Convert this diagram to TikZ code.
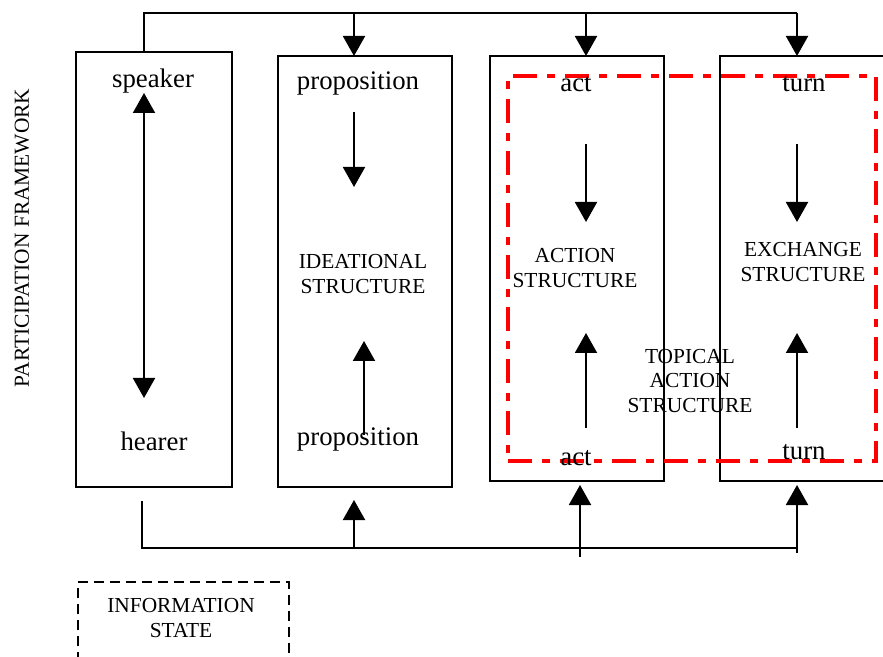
\documentclass[tikz,border=0pt]{standalone}
\usepackage{fontspec}
\setmainfont{Liberation Serif}
\usetikzlibrary{arrows.meta}
\begin{document}
\begin{tikzpicture}[x=0.5pt, y=-0.5pt,
    box/.style={draw, line width=1pt, inner sep=0pt, outer sep=0pt},
    topic/.style={draw=red, line width=2pt, dash pattern=on 12pt off 5pt on 4pt off 5pt, inner sep=0pt},
    state/.style={draw, line width=1pt, dash pattern=on 5pt off 3pt, inner sep=0pt},
    word/.style={font=\fontsize{13.4}{15}\selectfont},
    caps/.style={font=\fontsize{10.7}{12.3}\selectfont, align=center},
    line/.style={line width=1pt},
    arr/.style={line width=1pt, -{Triangle[length=10pt,width=11pt]}},
    dbl/.style={line width=1pt, {Triangle[length=10pt,width=11pt]}-{Triangle[length=10pt,width=11pt]}}
  ]
    \useasboundingbox (0,0) rectangle (883,657);
    \clip (0,0) rectangle (883,657);

    % the four boxes
    \node[box, minimum width=78pt, minimum height=217.5pt] (part) at (154,269.5) {};
    \node[box, minimum width=87pt, minimum height=215.5pt] (idea) at (365,271.5) {};
    \node[box, minimum width=87pt, minimum height=212.5pt] (act)  at (577,268.5) {};
    \node[box, minimum width=86pt, minimum height=212.5pt] (exch) at (806,268.5) {};
    \node[topic, minimum width=184pt, minimum height=192.5pt] (topic) at (692,268.5) {};
    \node[state, minimum width=105.5pt, minimum height=50pt] (info) at (183.5,632) {};

    \node[word] (spk)  at (153,81)  {speaker};
    \node[word] (hrr)  at (154,441) {hearer};
    \node[word] (ptop) at (358,83)  {proposition};
    \node[word] (pbot) at (358,439) {proposition};
    \node[word] (atop) at (576,84)  {act};
    \node[word] (abot) at (576,458) {act};
    \node[word] (ttop) at (804,84)  {turn};
    \node[word] (tbot) at (804,452) {turn};

    \node[caps] (ideal)  at (363,274) {IDEATIONAL\\STRUCTURE};
    \node[caps] (actl)   at (575,268) {ACTION\\STRUCTURE};
    \node[caps] (exchl)  at (803,262) {EXCHANGE\\STRUCTURE};
    \node[caps] (topicl) at (690,381) {TOPICAL\\ACTION\\STRUCTURE};
    \node[caps] (infol)  at (181,618) {INFORMATION\\STATE};
    \node[caps, rotate=90] (partl) at (22,238) {PARTICIPATION FRAMEWORK};

    % arrows inside the boxes
    \draw[dbl] (144,398) -- (144,93);
    \draw[arr] (354,112) -- (354,187);
    \draw[arr] (364,435) -- (364,341);
    \draw[arr] (586,144) -- (586,222);
    \draw[arr] (586,428) -- (586,333);
    \draw[arr] (797,144) -- (797,222);
    \draw[arr] (797,428) -- (797,333);

    % top line
    \coordinate (t1) at (144,13);
    \coordinate (t2) at (354,13);
    \coordinate (t3) at (586,13);
    \coordinate (t4) at (797,13);
    \draw[line] (t1 |- part.north) -- (t1) -- (t4);
    \draw[arr] (t2) -- (t2 |- idea.north);
    \draw[arr] (t3) -- (t3 |- act.north);
    \draw[arr] (t4) -- (t4 |- exch.north);

    % bottom line
    \coordinate (b0) at (142,501);
    \coordinate (b1) at (142,548);
    \coordinate (b2) at (354,548);
    \coordinate (b3) at (580,557);
    \coordinate (b4) at (797,553);
    \draw[line] (b0) -- (b1) -- (b1 -| b4) -- (b4);
    \draw[arr, shorten >=6.5pt] (b2) -- (b2 |- idea.south);
    \draw[arr, shorten >=2pt] (b3) -- (b3 |- act.south);
    \draw[arr, shorten >=2pt] (b4) -- (b4 |- exch.south);
\end{tikzpicture}
\end{document}
